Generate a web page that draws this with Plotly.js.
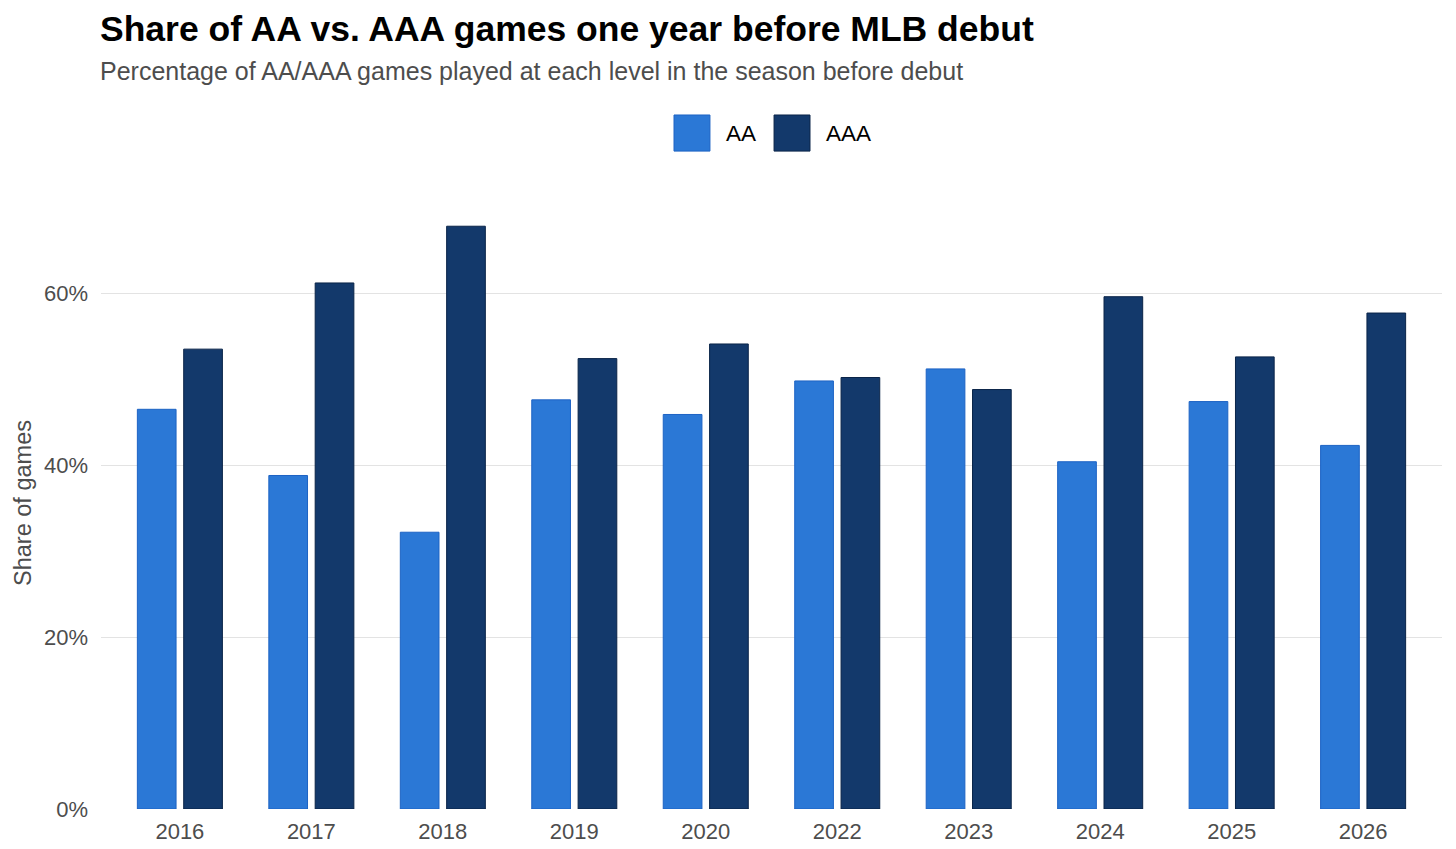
<!DOCTYPE html>
<html>
<head>
<meta charset="utf-8">
<script src="https://cdn.plot.ly/plotly-3.0.1.min.js"></script>
<style>
  html, body { margin: 0; padding: 0; background: #fff; }
  #chart { width: 1456px; height: 849px; }
</style>
</head>
<body>
<div id="chart"></div>
<script>
// debut seasons (no 2021 group in the source)
const seasons = ['2016', '2017', '2018', '2019', '2020', '2022', '2023', '2024', '2025', '2026'];
// share of AA/AAA games, percent
const aaShare = [46.5, 38.8, 32.2, 47.6, 45.9, 49.8, 51.2, 40.4, 47.4, 42.3];
const aaaShare = [53.5, 61.2, 67.8, 52.4, 54.1, 50.2, 48.8, 59.6, 52.6, 57.7];
const yTicks = [0, 20, 40, 60];

const COLORS = {
  aa: '#2b78d6',
  aaLine: '#1d63c4',
  aaa: '#13396b',
  aaaLine: '#0a2448',
};

const FONT = 'Liberation Sans, Arial, sans-serif';
const TEXT_GREY = '#4d4d4d';

const traces = [
  {
    type: 'bar',
    name: 'AA',
    x: seasons,
    y: aaShare,
    marker: { color: COLORS.aa, line: { color: COLORS.aaLine, width: 1 } },
    hovertemplate: '%{x}<br>AA: %{y:.1f}%<extra></extra>',
  },
  {
    type: 'bar',
    name: 'AAA',
    x: seasons,
    y: aaaShare,
    marker: { color: COLORS.aaa, line: { color: COLORS.aaaLine, width: 1 } },
    hovertemplate: '%{x}<br>AAA: %{y:.1f}%<extra></extra>',
  },
];

// legend keys drawn by hand so the swatches can be large squares
const legendKey = (x0, color, line) => ({
  type: 'rect', xref: 'paper', yref: 'paper',
  x0: x0, x1: x0 + 0.0268, y0: 1.075, y1: 1.134,
  fillcolor: color, line: { color: line, width: 1 },
});

const layout = {
  width: 1456,
  height: 849,
  paper_bgcolor: '#ffffff',
  plot_bgcolor: '#ffffff',
  margin: { l: 101, r: 14, t: 197, b: 40 },
  font: { family: FONT, color: TEXT_GREY },
  showlegend: false,
  barmode: 'group',
  bargap: 0.295,
  bargroupgap: 0.165,
  title: {
    text: '<b>Share of AA vs. AAA games one year before MLB debut</b>',
    font: { family: FONT, size: 35.5, color: '#000000' },
    xref: 'container', x: 100 / 1456, xanchor: 'left',
    yref: 'container', y: 1 - 29 / 849, yanchor: 'middle',
  },
  xaxis: {
    type: 'category',
    range: [-0.6, 9.6],
    showgrid: false,
    zeroline: false,
    showline: false,
    ticks: '',
    ticklabelstandoff: 7,
    tickfont: { family: FONT, size: 22, color: TEXT_GREY },
    fixedrange: true,
  },
  yaxis: {
    range: [0, 71.2],
    tickvals: yTicks,
    ticktext: yTicks.map((v) => v + '%'),
    showgrid: true,
    gridcolor: '#e3e3e3',
    gridwidth: 1,
    zeroline: false,
    showline: false,
    ticks: '',
    ticklabelstandoff: 12,
    tickfont: { family: FONT, size: 22, color: TEXT_GREY },
    title: {
      text: 'Share of games',
      font: { family: FONT, size: 23.5, color: TEXT_GREY },
      standoff: 5,
    },
    fixedrange: true,
  },
  shapes: [
    legendKey(0.4273, COLORS.aa, COLORS.aaLine),
    legendKey(0.5019, COLORS.aaa, COLORS.aaaLine),
  ],
  annotations: [
    {
      text: 'Percentage of AA/AAA games played at each level in the season before debut',
      xref: 'paper', yref: 'paper', x: -0.002, y: 1.206,
      xanchor: 'left', yanchor: 'middle', showarrow: false,
      font: { family: FONT, size: 25, color: TEXT_GREY },
    },
    {
      text: 'AA', xref: 'paper', yref: 'paper', x: 0.4648, y: 1.1045,
      xanchor: 'left', yanchor: 'middle', showarrow: false,
      font: { family: FONT, size: 22.5, color: '#000000' },
    },
    {
      text: 'AAA', xref: 'paper', yref: 'paper', x: 0.5392, y: 1.1045,
      xanchor: 'left', yanchor: 'middle', showarrow: false,
      font: { family: FONT, size: 22.5, color: '#000000' },
    },
  ],
};

Plotly.newPlot('chart', traces, layout, { displayModeBar: false, responsive: false });
</script>
</body>
</html>
